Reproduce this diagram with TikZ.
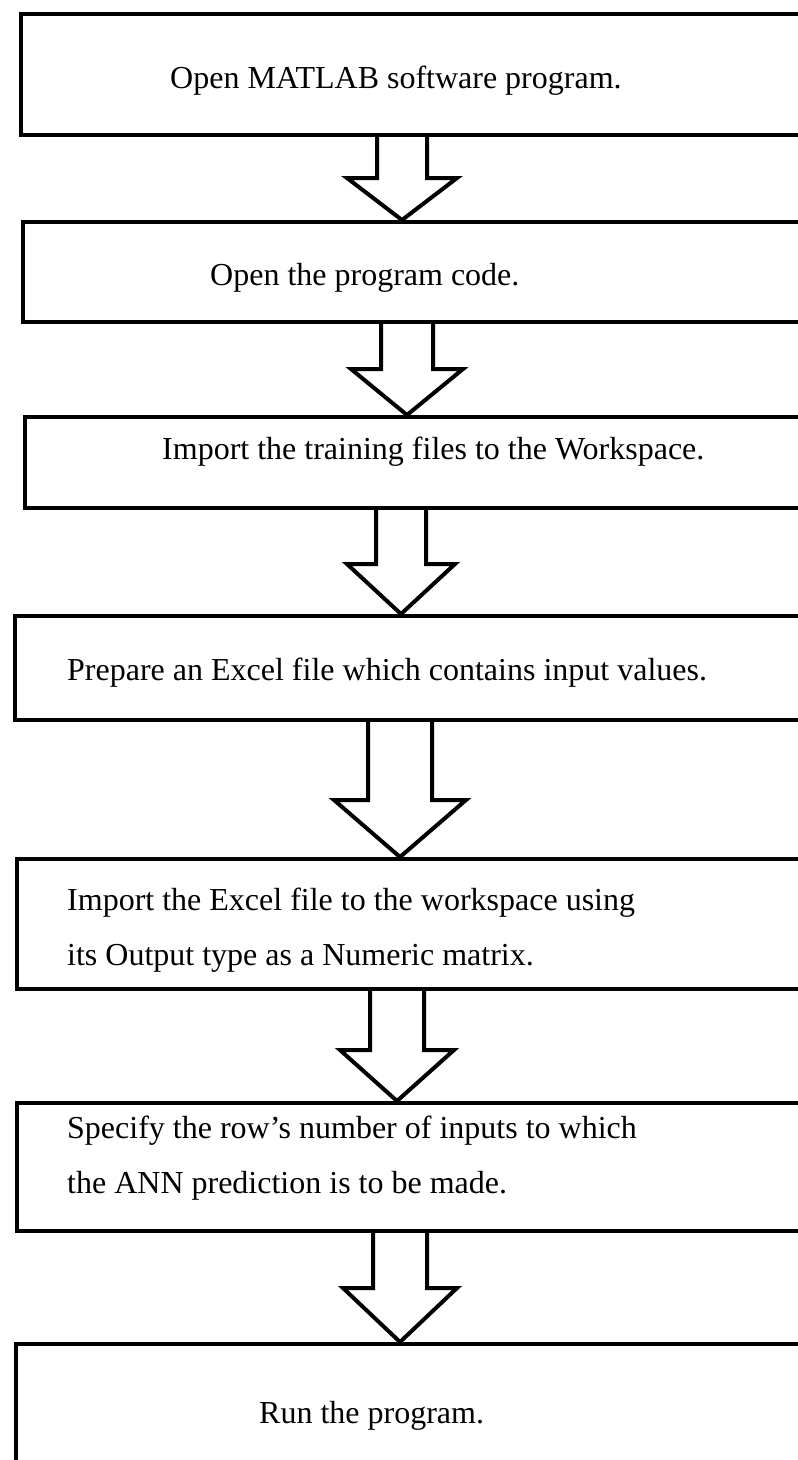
\documentclass[tikz,border=0pt]{standalone}
\usepackage{fontspec}
\setmainfont{Liberation Serif}
\usepackage{tikz}
\usetikzlibrary{calc}

\tikzset{
  caja/.style={draw, line width=4pt, inner sep=0pt, anchor=north west},
  texto/.style={anchor=base west, inner sep=0pt, font=\fontsize{32}{38}\selectfont},
  flecha/.style={line width=4pt, line join=miter}
}

\begin{document}
\begin{tikzpicture}[x=1pt,y=-1pt]
%marco del dibujo
\useasboundingbox (0,0) rectangle (798,1460);
\clip (0,0) rectangle (798,1460);

%cajas de cada paso
\node[caja, minimum width=787pt, minimum height=121pt] (b1) at (19,12) {};
\node[caja, minimum width=785pt, minimum height=100pt] (b2) at (21,220) {};
\node[caja, minimum width=783pt, minimum height=91pt] (b3) at (23,415) {};
\node[caja, minimum width=786pt, minimum height=104pt] (b4) at (13,614) {};
\node[caja, minimum width=791pt, minimum height=130pt] (b5) at (15,857) {};
\node[caja, minimum width=791pt, minimum height=128pt] (b6) at (15,1101) {};
\node[caja, minimum width=786pt, minimum height=140pt] (b7) at (14,1342) {};

%textos de cada paso
\node[texto] (t1) at (170,88) {Open MATLAB software program.};
\node[texto] (t2) at (210,285) {Open the program code.};
\node[texto] (t3) at (162,459) {Import the training files to the Workspace.};
\node[texto] (t4) at (67,680) {Prepare an Excel file which contains input values.};
\node[texto] (t5a) at (67,910) {Import the Excel file to the workspace using};
\node[texto] (t5b) at (67,965) {its Output type as a Numeric matrix.};
\node[texto] (t6a) at (67,1138) {Specify the row’s number of inputs to which};
\node[texto] (t6b) at (67,1193) {the ANN prediction is to be made.};
\node[texto] (t7) at (259,1423) {Run the program.};

%flechas huecas entre los pasos
\foreach \a/\b/\m/\s/\w/\h in {b1/b2/402/25/55/42, b2/b3/407/26/56/46, b3/b4/401/25/54/50,
                              b4/b5/400/32/66/57, b5/b6/397/27/57/51, b6/b7/400/27/57/54}
	\draw[flecha] let \p1=(\a.south), \p2=(\b.north) in
	  (\m pt-\s pt,\y1) -- (\m pt-\s pt,\y2+\h pt) -- (\m pt-\w pt,\y2+\h pt) -- (\m pt,\y2)
	  -- (\m pt+\w pt,\y2+\h pt) -- (\m pt+\s pt,\y2+\h pt) -- (\m pt+\s pt,\y1);
\end{tikzpicture}
\end{document}
